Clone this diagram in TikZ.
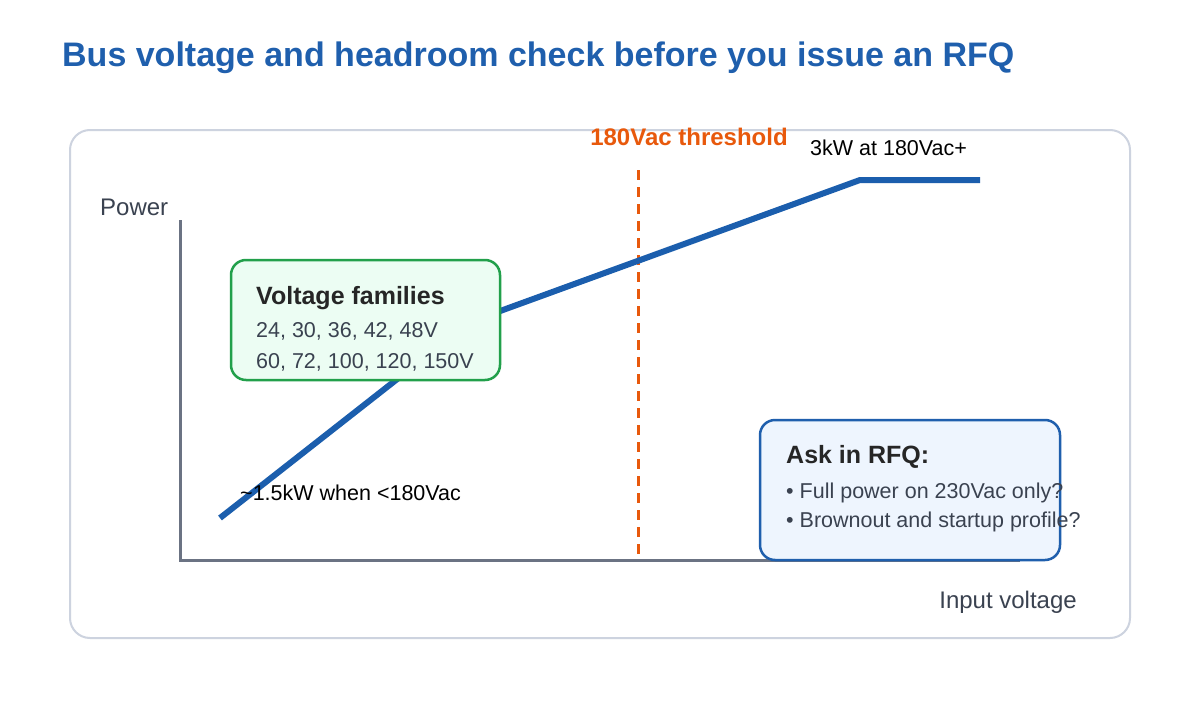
\documentclass[tikz,border=0pt]{standalone}
\usepackage{fontspec}
\setmainfont{Liberation Sans}
\usepackage{tikz}
\definecolor{titleblue}{HTML}{1F5FAD}
\definecolor{curveblue}{HTML}{1B5EAD}
\definecolor{framegray}{HTML}{CDD3DF}
\definecolor{axisgray}{HTML}{6B7383}
\definecolor{textgray}{HTML}{3A4250}
\definecolor{threshorange}{HTML}{E8590C}
\definecolor{famgreen}{HTML}{22A04B}
\definecolor{famfill}{HTML}{ECFDF3}
\definecolor{rfqfill}{HTML}{EEF5FE}
\tikzset{
  lbl/.style={anchor=west, inner sep=0pt, text=textgray, font=\fontsize{21.5}{25}\selectfont},
  head/.style={anchor=west, inner sep=0pt, text=black!85, font=\fontsize{25}{29}\selectfont\bfseries},
  panel/.style={rounded corners=15pt, line width=2.5pt}
}
\begin{document}
\begin{tikzpicture}[x=1pt,y=-1pt]
                \useasboundingbox[fill=white] (0,0) rectangle (1200,720);
                % title and frame
                \node[anchor=west, inner sep=0pt, text=titleblue, font=\fontsize{34}{38}\selectfont\bfseries] (title) at (62,58) {Bus voltage and headroom check before you issue an RFQ};
                \draw[framegray, line width=2pt, rounded corners=20pt] (70,130) rectangle (1130,638);

                % axes
                \coordinate (origin) at (180,560);
                \coordinate (ytop) at (180,220);
                \coordinate (xend) at (1020,560);
                \draw[axisgray, line width=3pt] (ytop) -- (origin) -- (xend);
                \node[lbl, font=\fontsize{24}{28}\selectfont] (ylabel) at (100,207) {Power};
                \node[lbl, anchor=east, font=\fontsize{24}{28}\selectfont] (xlabel) at (1077,602) {Input voltage};

                % threshold
                \coordinate (thtop) at (638,170);
                \coordinate (thbot) at (638,558);
                \draw[threshorange, line width=3pt, dash pattern=on 10pt off 7pt] (thtop) -- (thbot);
                \node[inner sep=0pt, text=threshorange, font=\fontsize{24}{28}\selectfont\bfseries] (thlabel) at (689,137) {180Vac threshold};

                % power curve
                \coordinate (p0) at (220,518);
                \coordinate (p1) at (470,322);
                \coordinate (p2) at (860,180);
                \coordinate (p3) at (980,180);
                \draw[curveblue, line width=6pt] (p0) -- (p1) -- (p2) -- (p3);
                \node[lbl, text=black] (low) at (240,493) {\textasciitilde1.5kW when <180Vac};
                \node[lbl, text=black] (high) at (810,148) {3kW at 180Vac+};

                % voltage families
                \draw[panel, famgreen, fill=famfill] (231,260) rectangle (500,380);
                \node[head] (famhead) at (256,298) {Voltage families};
                \node[lbl] (famA) at (256,331) {24, 30, 36, 42, 48V};
                \node[lbl] (famB) at (256,362) {60, 72, 100, 120, 150V};

                % RFQ box
                \draw[panel, titleblue, fill=rfqfill] (760,420) rectangle (1060,560);
                \node[head] (rfqhead) at (786,457) {Ask in RFQ:};
                \node[lbl] (rfqA) at (786,493) {• Full power on 230Vac only?};
                \node[lbl] (rfqB) at (786,522) {• Brownout and startup profile?};
            \end{tikzpicture}
\end{document}
